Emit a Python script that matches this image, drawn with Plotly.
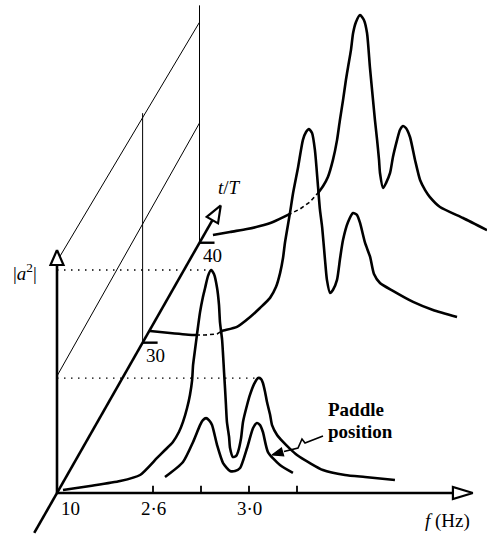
import numpy as np
import plotly.graph_objects as go

# ---------------- data ----------------
# spectrum |a^2| (arbitrary units, 0-100) against frequency f (Hz) for each t/T slice
F_T10 = [2.225, 2.338, 2.463, 2.546, 2.617, 2.650, 2.683, 2.708, 2.725, 2.742, 2.754, 2.763, 2.767, 2.775, 2.783,
         2.796, 2.808, 2.817, 2.829, 2.842, 2.854, 2.867, 2.875, 2.879, 2.888, 2.892, 2.896, 2.900, 2.904, 2.908,
         2.917, 2.921, 2.933, 2.946, 2.954, 2.967, 2.975, 2.992, 3.004, 3.021, 3.038, 3.050, 3.058, 3.067, 3.075,
         3.088, 3.096, 3.117, 3.142, 3.171, 3.200, 3.254, 3.308, 3.400, 3.483, 3.608]
A_T10 = [1.3, 3.1, 5.3, 8.0, 15.6, 19.1, 22.7, 27.1, 31.6, 37.8, 43.6, 50.2, 56.9, 63.6, 70.2,
         80.4, 87.1, 91.1, 96.4, 99.1, 97.3, 91.1, 83.6, 76.0, 68.0, 61.3, 53.8, 46.7, 39.1, 31.6,
         24.9, 20.0, 16.0, 16.4, 18.2, 24.4, 31.6, 39.1, 43.6, 48.4, 51.1, 50.7, 48.9, 44.9, 40.4,
         34.7, 30.2, 25.8, 22.7, 19.6, 16.9, 13.3, 10.2, 8.0, 7.1, 5.8]

F_PADDLE = [2.650, 2.725, 2.767, 2.796, 2.808, 2.821, 2.833, 2.846, 2.867, 2.892, 2.921, 2.942, 2.963, 2.992,
            3.017, 3.033, 3.046, 3.058, 3.079, 3.129, 3.183]
A_PADDLE = [7.1, 13.8, 22.7, 30.2, 32.4, 33.3, 32.4, 30.2, 21.3, 13.3, 9.8, 9.8, 11.1, 20.0,
            28.9, 31.1, 30.2, 27.1, 18.2, 12.4, 8.9]

F_T30 = [2.231, 2.314, 2.410, 2.460, 2.510, 2.531, 2.593, 2.648, 2.689, 2.731, 2.756, 2.773, 2.785, 2.793, 2.814,
         2.827, 2.848, 2.868, 2.881, 2.893, 2.906, 2.918, 2.931, 2.939, 2.948, 2.960, 2.968, 2.981, 2.993, 3.010,
         3.023, 3.035, 3.056, 3.077, 3.093, 3.106, 3.127, 3.148, 3.164, 3.189, 3.243, 3.327, 3.410, 3.510]
A_T30 = [5.2, 4.3, 3.4, 3.4, 3.9, 5.2, 7.0, 11.4, 15.4, 19.9, 24.8, 31.0, 37.6, 44.3, 57.6,
         66.5, 78.1, 90.1, 93.6, 94.9, 93.2, 85.6, 69.2, 59.0, 51.4, 36.8, 27.9, 22.1, 23.4, 27.9,
         37.6, 45.6, 53.6, 57.6, 56.8, 53.2, 44.3, 38.1, 30.5, 26.5, 23.0, 18.1, 14.5, 11.4]

F_T40 = [2.256, 2.327, 2.398, 2.452, 2.506, 2.577, 2.619, 2.660, 2.694, 2.715, 2.735, 2.756, 2.773, 2.785, 2.798,
         2.810, 2.819, 2.831, 2.840, 2.852, 2.869, 2.885, 2.898, 2.910, 2.923, 2.931, 2.940, 2.948, 2.952, 2.965,
         2.977, 2.994, 3.006, 3.023, 3.035, 3.048, 3.060, 3.077, 3.098, 3.119, 3.140, 3.160, 3.202, 3.298, 3.398]
A_T40 = [3.4, 4.8, 6.1, 7.4, 9.2, 12.8, 15.0, 18.1, 22.1, 25.2, 29.2, 36.8, 45.6, 54.5, 63.4,
         72.3, 78.1, 85.6, 93.2, 98.1, 101.2, 99.0, 93.2, 78.1, 63.4, 54.5, 45.6, 36.8, 31.0, 24.3,
         26.5, 31.0, 38.1, 45.6, 50.1, 51.9, 51.0, 47.0, 36.8, 27.9, 23.4, 20.3, 15.9, 11.0, 5.6]

T_ORIGIN = 10
T_TICKS = [30, 40]
F_TICKS = [2.6, 2.8, 3.0, 3.2]
F_TICK_LABELS = ["2·6", "", "3·0", ""]

# ---------------- drawing geometry (oblique projection) ----------------
W, H = 487, 537
ORIGIN = np.array([57.0, 493.0])
F0 = 2.2            # frequency at the origin
F_END = 3.933       # frequency at the f-axis arrow tip
PX_HZ = 240.0
PX_A = 2.25
TDIR = np.array([164.0, -288.0])
TDIR = TDIR / np.linalg.norm(TDIR)
T_SCALE_T = [10, 30, 40]          # the drawing's (non-uniform) t/T scale
T_SCALE_D = [0.0, 173.0, 288.0]
T_AXIS_START, T_AXIS_TIP = -46.0, 331.0
A_AXIS_TIP = 108.0

FONT = "Liberation Serif"


def depth(t):
    return float(np.interp(t, T_SCALE_T, T_SCALE_D))


def proj(f, a, t=10, d=None):
    f = np.asarray(f, float)
    a = np.asarray(a, float)
    if d is None:
        d = depth(t)
    x = ORIGIN[0] + (f - F0) * PX_HZ + d * TDIR[0]
    y = ORIGIN[1] - a * PX_A + d * TDIR[1]
    return x, y


traces = []


def add_line(xs, ys, width=1.0, dash=None, shape="linear", color="black"):
    traces.append(go.Scatter(x=list(np.atleast_1d(xs)), y=list(np.atleast_1d(ys)), mode="lines",
                             line=dict(color=color, width=width, dash=dash, shape=shape,
                                       smoothing=0.6 if shape == "spline" else None),
                             hoverinfo="skip", showlegend=False))


def add_head(tip, direction, length, halfw, width=2.2, fill="white"):
    tip = np.asarray(tip, float)
    u = np.asarray(direction, float)
    u = u / np.linalg.norm(u)
    n = np.array([-u[1], u[0]])
    base = tip - u * length
    p1 = base + n * halfw
    p2 = base - n * halfw
    xs = [tip[0], p1[0], p2[0], tip[0]]
    ys = [tip[1], p1[1], p2[1], tip[1]]
    traces.append(go.Scatter(x=xs, y=ys, mode="lines", fill="toself", fillcolor=fill,
                             line=dict(color="black", width=width), hoverinfo="skip", showlegend=False))
    return base


def split_runs(xs, ys, occluders, n_sub=8):
    """split a screen polyline into visible / hidden runs (hidden = behind a nearer curve)"""
    pts = []
    for i in range(len(xs) - 1):
        for k in range(n_sub):
            s = k / n_sub
            pts.append((xs[i] + (xs[i + 1] - xs[i]) * s, ys[i] + (ys[i + 1] - ys[i]) * s, k == 0))
    pts.append((xs[-1], ys[-1], True))
    flags = []
    for (x, y, _) in pts:
        hid = False
        for ox, oy in occluders:
            if ox[0] <= x <= ox[-1]:
                if y > np.interp(x, ox, oy) + 0.3:
                    hid = True
        flags.append(hid)
    runs = []
    start = 0
    for i in range(1, len(pts)):
        if flags[i] != flags[start]:
            runs.append((start, i, flags[start]))
            start = i
    runs.append((start, len(pts) - 1, flags[start]))
    out = []
    for j, (a, b, hid) in enumerate(runs):
        lo = a - 1 if j > 0 else a
        idx = [k for k in range(lo, b + 1) if pts[k][2] or k in (lo, b)]
        out.append(([pts[k][0] for k in idx], [pts[k][1] for k in idx], hid))
    return out


# ---------------- construction lines (thin) ----------------
for t, top in [(30, 102.0), (40, 105.5)]:
    x, y = proj([F0, F0], [0, top], t)
    add_line(x, y, 1.0)
for a_near, a_far in [(103.0, 98.0), (52.0, 53.2)]:
    x0, y0 = proj(F0, a_near, T_ORIGIN)
    x1, y1 = proj(F0, a_far, 40)
    add_line([float(x0), float(x1)], [float(y0), float(y1)], 1.0)

# dotted level lines from the t/T=10 peaks to the |a^2| axis
A10 = np.array(A_T10)
F10 = np.array(F_T10)
i1 = int(np.argmax(A10))
mask2 = F10 > 2.95
i2 = int(np.where(mask2)[0][np.argmax(A10[mask2])])
for i in (i1, i2):
    x, y = proj([F0, F10[i]], [A10[i], A10[i]], T_ORIGIN)
    add_line(x, y, 1.3, dash="1.5px,5.5px")

# ---------------- axes ----------------
AX_W = 2.6
# f axis
tip_f = np.array(proj(F_END, 0, T_ORIGIN), float)
base = tip_f - np.array([20.0, 0.0])
x0, y0 = proj(F0, 0, T_ORIGIN)
add_line([float(x0), base[0]], [float(y0), base[1]], AX_W)
add_head(tip_f, [1, 0], 20, 6)
for f in F_TICKS:
    x, y = proj([f, f], [0, 3.2], T_ORIGIN)
    add_line(x, y, 1.8)
# |a^2| axis
tip_a = np.array(proj(F0, A_AXIS_TIP, T_ORIGIN), float)
add_line([float(x0), tip_a[0]], [float(y0), tip_a[1] + 14], AX_W)
add_head(tip_a, [0, -1], 15, 6.5)
# t/T axis
xs_, ys_ = proj(F0, 0, d=T_AXIS_START)
tip_t = np.array(proj(F0, 0, d=T_AXIS_TIP), float)
add_line([float(xs_), tip_t[0] - TDIR[0] * 16], [float(ys_), tip_t[1] - TDIR[1] * 16], AX_W)
add_head(tip_t, TDIR, 17, 6.5)
for t in T_TICKS:
    x, y = proj([F0, F0 + 15 / PX_HZ], [0, 0], t)
    add_line(x, y, 2.4)

# ---------------- spectra ----------------
CURVE_W = 2.6
screen = {}
for name, F, A, t in [("t10", F_T10, A_T10, 10), ("pad", F_PADDLE, A_PADDLE, 10),
                      ("t30", F_T30, A_T30, 30), ("t40", F_T40, A_T40, 40)]:
    x, y = proj(F, A, t)
    screen[name] = (np.array(x), np.array(y))

occl = {"t10": [], "pad": [], "t30": [screen["t10"]], "t40": [screen["t10"], screen["t30"]]}
for name in ["t40", "t30", "t10", "pad"]:
    xs, ys = screen[name]
    for rx, ry, hid in split_runs(list(xs), list(ys), occl[name]):
        if hid:
            add_line(rx, ry, 1.6, dash="4px,3px")
        else:
            add_line(rx, ry, CURVE_W, shape="spline")

# paddle-position pointer (zig-zag leader with a solid head)
add_line([323, 305, 302, 298, 284], [436, 443, 439, 448, 451.5], 1.6)
add_head([272, 455], [-12, 3.5], 11, 4, width=1.2, fill="black")

# ---------------- text ----------------
ann = []


def text(x, y, s, size=19, xanchor="center", yanchor="middle", align="center"):
    ann.append(dict(x=x, y=y, xref="x", yref="y", text=s, showarrow=False, xanchor=xanchor, yanchor=yanchor,
                    align=align, font=dict(family=FONT, size=size, color="black")))


for f, lab in zip(F_TICKS, F_TICK_LABELS):
    if lab:
        x, y = proj(f, 0, T_ORIGIN)
        text(float(x), float(y) + 15, lab)
text(float(x0) + 13, float(y0) + 15, str(T_ORIGIN))
for t in T_TICKS:
    x, y = proj(F0, 0, t)
    text(float(x) + 13, float(y) + 13, str(t))
text(447, 521, "<i>f</i> (Hz)")
text(229, 187, "<i>t</i>/<i>T</i>")
text(39, 272, "|<i>a</i><sup>2</sup>|", size=19, xanchor="right")
text(326, 409, "<b>Paddle</b>", size=19, xanchor="left", align="left")
text(326, 431, "<b>position</b>", size=19, xanchor="left", align="left")

fig = go.Figure(traces)
fig.update_layout(width=W, height=H, margin=dict(l=0, r=0, t=0, b=0),
                  paper_bgcolor="white", plot_bgcolor="white", showlegend=False,
                  xaxis=dict(range=[0, W], visible=False, fixedrange=True),
                  yaxis=dict(range=[H, 0], visible=False, fixedrange=True),
                  annotations=ann)
fig.write_html("out.html")
